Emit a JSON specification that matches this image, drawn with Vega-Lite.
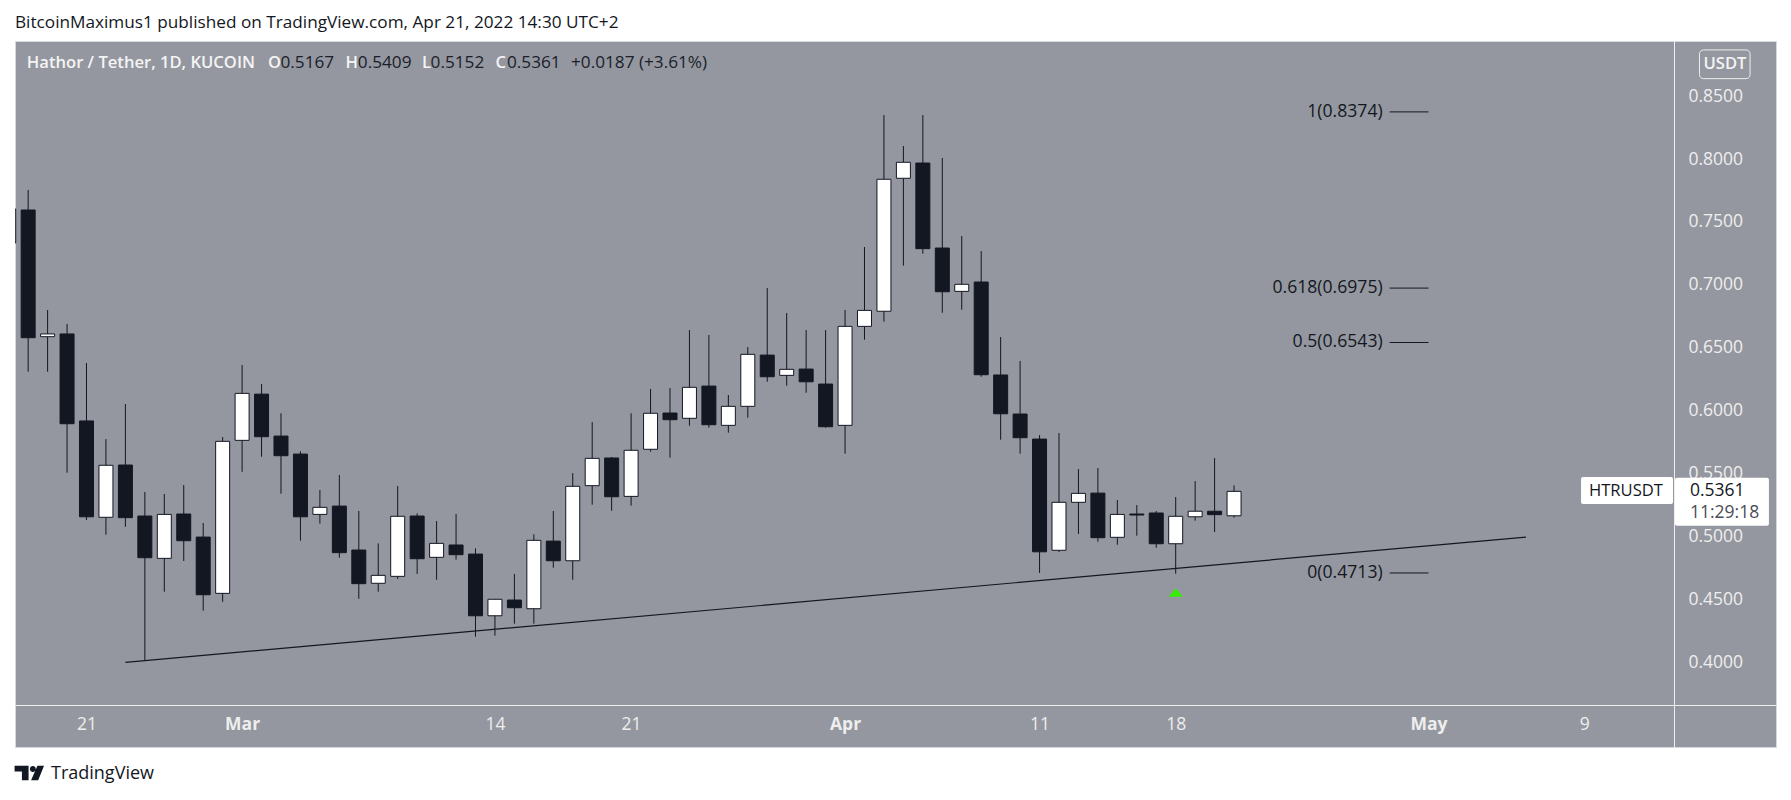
{
  "$schema": "https://vega.github.io/schema/vega-lite/v6.json",
  "title": {"text": "BitcoinMaximus1 published on TradingView.com, Apr 21, 2022 14:30 UTC+2", "anchor": "start", "frame": "group", "offset": 10, "font": "Open Sans", "fontSize": 17.2, "fontWeight": "normal", "color": "#131722"},
  "width": 1761,
  "height": 706,
  "autosize": "none",
  "padding": {"left": 15, "top": 41, "right": 15, "bottom": 53},
  "background": "#ffffff",
  "config": {
    "view": {"fill": "#94979f", "stroke": "#d8d8e2"},
    "text": {"font": "Open Sans"},
    "axis": {"labelFont": "Open Sans", "labelFontSize": 17.5, "labelColor": "#eeeeee", "domainColor": "#eeeeee", "domainWidth": 1, "ticks": false, "grid": false, "title": null, "labelOverlap": false, "labelBound": false, "labelFlush": false}
  },
  "datasets": {
    "candles": [
      {"date": "2022-02-17", "open": 0.7333, "high": 0.7603, "low": 0.7333, "close": 0.7603},
      {"date": "2022-02-18", "open": 0.7595, "high": 0.7754, "low": 0.6311, "close": 0.6581},
      {"date": "2022-02-19", "open": 0.6589, "high": 0.6801, "low": 0.6311, "close": 0.6611},
      {"date": "2022-02-20", "open": 0.6611, "high": 0.669, "low": 0.5509, "close": 0.5898},
      {"date": "2022-02-21", "open": 0.592, "high": 0.638, "low": 0.5133, "close": 0.5159},
      {"date": "2022-02-22", "open": 0.5155, "high": 0.5776, "low": 0.5017, "close": 0.5568},
      {"date": "2022-02-23", "open": 0.557, "high": 0.6054, "low": 0.508, "close": 0.5152},
      {"date": "2022-02-24", "open": 0.5165, "high": 0.5356, "low": 0.4021, "close": 0.4834},
      {"date": "2022-02-25", "open": 0.4829, "high": 0.534, "low": 0.4564, "close": 0.5178},
      {"date": "2022-02-26", "open": 0.5181, "high": 0.5411, "low": 0.4808, "close": 0.4969},
      {"date": "2022-02-27", "open": 0.4998, "high": 0.511, "low": 0.4413, "close": 0.454},
      {"date": "2022-02-28", "open": 0.4551, "high": 0.5792, "low": 0.4484, "close": 0.5758},
      {"date": "2022-03-01", "open": 0.5766, "high": 0.6364, "low": 0.5516, "close": 0.6139},
      {"date": "2022-03-02", "open": 0.6133, "high": 0.6213, "low": 0.5636, "close": 0.5795},
      {"date": "2022-03-03", "open": 0.58, "high": 0.5981, "low": 0.5342, "close": 0.5644},
      {"date": "2022-03-04", "open": 0.5657, "high": 0.5679, "low": 0.4969, "close": 0.5159},
      {"date": "2022-03-05", "open": 0.5178, "high": 0.5372, "low": 0.5104, "close": 0.5234},
      {"date": "2022-03-06", "open": 0.5244, "high": 0.5491, "low": 0.4834, "close": 0.4874},
      {"date": "2022-03-07", "open": 0.4895, "high": 0.5205, "low": 0.4508, "close": 0.4628},
      {"date": "2022-03-08", "open": 0.4631, "high": 0.4948, "low": 0.4564, "close": 0.4694},
      {"date": "2022-03-09", "open": 0.4686, "high": 0.5403, "low": 0.4665, "close": 0.5163},
      {"date": "2022-03-10", "open": 0.5165, "high": 0.5186, "low": 0.4705, "close": 0.4826},
      {"date": "2022-03-11", "open": 0.4837, "high": 0.5125, "low": 0.4659, "close": 0.4948},
      {"date": "2022-03-12", "open": 0.4935, "high": 0.5181, "low": 0.4818, "close": 0.4858},
      {"date": "2022-03-13", "open": 0.4863, "high": 0.4908, "low": 0.4207, "close": 0.4373},
      {"date": "2022-03-14", "open": 0.4373, "high": 0.4504, "low": 0.4215, "close": 0.4504},
      {"date": "2022-03-15", "open": 0.4498, "high": 0.4705, "low": 0.431, "close": 0.4437},
      {"date": "2022-03-16", "open": 0.4429, "high": 0.502, "low": 0.431, "close": 0.4972},
      {"date": "2022-03-17", "open": 0.4966, "high": 0.5205, "low": 0.4755, "close": 0.481},
      {"date": "2022-03-18", "open": 0.481, "high": 0.5506, "low": 0.4659, "close": 0.5401},
      {"date": "2022-03-19", "open": 0.5406, "high": 0.5911, "low": 0.5255, "close": 0.5623},
      {"date": "2022-03-20", "open": 0.5626, "high": 0.5634, "low": 0.5207, "close": 0.5318},
      {"date": "2022-03-21", "open": 0.5321, "high": 0.5981, "low": 0.5247, "close": 0.5687},
      {"date": "2022-03-22", "open": 0.5695, "high": 0.6174, "low": 0.5676, "close": 0.5981},
      {"date": "2022-03-23", "open": 0.5983, "high": 0.6181, "low": 0.5628, "close": 0.593},
      {"date": "2022-03-24", "open": 0.5941, "high": 0.6642, "low": 0.5882, "close": 0.6187},
      {"date": "2022-03-25", "open": 0.6197, "high": 0.6602, "low": 0.5866, "close": 0.589},
      {"date": "2022-03-26", "open": 0.5885, "high": 0.6126, "low": 0.5827, "close": 0.6036},
      {"date": "2022-03-27", "open": 0.6036, "high": 0.6507, "low": 0.5946, "close": 0.6449},
      {"date": "2022-03-28", "open": 0.6443, "high": 0.6975, "low": 0.6231, "close": 0.6271},
      {"date": "2022-03-29", "open": 0.6282, "high": 0.6777, "low": 0.62, "close": 0.633},
      {"date": "2022-03-30", "open": 0.6332, "high": 0.6642, "low": 0.6144, "close": 0.6231},
      {"date": "2022-03-31", "open": 0.6213, "high": 0.6642, "low": 0.5866, "close": 0.5874},
      {"date": "2022-04-01", "open": 0.5885, "high": 0.6801, "low": 0.566, "close": 0.6671},
      {"date": "2022-04-02", "open": 0.6671, "high": 0.7301, "low": 0.6565, "close": 0.6798},
      {"date": "2022-04-03", "open": 0.6791, "high": 0.8349, "low": 0.6708, "close": 0.7839},
      {"date": "2022-04-04", "open": 0.7847, "high": 0.8103, "low": 0.7153, "close": 0.7974},
      {"date": "2022-04-05", "open": 0.7968, "high": 0.8349, "low": 0.7248, "close": 0.7288},
      {"date": "2022-04-06", "open": 0.7293, "high": 0.8008, "low": 0.6779, "close": 0.6946},
      {"date": "2022-04-07", "open": 0.6949, "high": 0.7389, "low": 0.6803, "close": 0.7005},
      {"date": "2022-04-08", "open": 0.7023, "high": 0.7269, "low": 0.6271, "close": 0.6287},
      {"date": "2022-04-09", "open": 0.6285, "high": 0.6586, "low": 0.5771, "close": 0.5977},
      {"date": "2022-04-10", "open": 0.5975, "high": 0.6396, "low": 0.566, "close": 0.5787},
      {"date": "2022-04-11", "open": 0.5776, "high": 0.5808, "low": 0.4713, "close": 0.4881},
      {"date": "2022-04-12", "open": 0.4893, "high": 0.5824, "low": 0.4879, "close": 0.5274},
      {"date": "2022-04-13", "open": 0.5274, "high": 0.5538, "low": 0.5022, "close": 0.5345},
      {"date": "2022-04-14", "open": 0.5347, "high": 0.5546, "low": 0.4961, "close": 0.4993},
      {"date": "2022-04-15", "open": 0.4996, "high": 0.5292, "low": 0.4937, "close": 0.5178},
      {"date": "2022-04-16", "open": 0.5181, "high": 0.5252, "low": 0.5009, "close": 0.5173},
      {"date": "2022-04-17", "open": 0.5189, "high": 0.5205, "low": 0.4913, "close": 0.4945},
      {"date": "2022-04-18", "open": 0.4945, "high": 0.5316, "low": 0.4707, "close": 0.5163},
      {"date": "2022-04-19", "open": 0.5159, "high": 0.5443, "low": 0.5128, "close": 0.5203},
      {"date": "2022-04-20", "open": 0.5203, "high": 0.5626, "low": 0.5038, "close": 0.5176},
      {"date": "2022-04-21", "open": 0.5167, "high": 0.5409, "low": 0.5152, "close": 0.5361}
    ],
    "fib": [
      {"label": "1(0.8374)", "level": 0.8374, "start": "2022-04-29", "end": "2022-05-01"},
      {"label": "0.618(0.6975)", "level": 0.6975, "start": "2022-04-29", "end": "2022-05-01"},
      {"label": "0.5(0.6543)", "level": 0.6543, "start": "2022-04-29", "end": "2022-05-01"},
      {"label": "0(0.4713)", "level": 0.4713, "start": "2022-04-29", "end": "2022-05-01"}
    ],
    "legendKeys": [
      {"label": "Hathor / Tether, 1D, KUCOIN", "date": "2022-02-17T22:20:00Z", "price": 0.876},
      {"label": "O", "date": "2022-03-02T07:58:00Z", "price": 0.876},
      {"label": "H", "date": "2022-03-06T07:41:00Z", "price": 0.876},
      {"label": "L", "date": "2022-03-10T06:00:00Z", "price": 0.876},
      {"label": "C", "date": "2022-03-14T00:43:00Z", "price": 0.876}
    ],
    "legendValues": [
      {"label": "0.5167", "date": "2022-03-02T23:23:00Z", "price": 0.876},
      {"label": "0.5409", "date": "2022-03-06T22:48:00Z", "price": 0.876},
      {"label": "0.5152", "date": "2022-03-10T16:34:00Z", "price": 0.876},
      {"label": "0.5361", "date": "2022-03-14T14:53:00Z", "price": 0.876},
      {"label": "+0.0187 (+3.61%)", "date": "2022-03-17T21:50:00Z", "price": 0.876}
    ],
    "badges": [
      {"start": "2022-05-08T20:10:00Z", "end": "2022-05-13T13:40:00Z", "top": 0.5475, "bottom": 0.526},
      {"start": "2022-05-13T16:05:00Z", "end": "2022-05-18T12:00:00Z", "top": 0.5469, "bottom": 0.5088}
    ]
  },
  "layer": [
    {
      "data": {"name": "candles"},
      "mark": {"type": "rule", "color": "#131722", "strokeWidth": 1, "clip": true},
      "encoding": {
        "x": {
          "field": "date",
          "type": "temporal",
          "scale": {"type": "utc", "domain": ["2022-02-17T07:46:30Z", "2022-05-18T20:44:00Z"], "padding": 0},
          "axis": {
            "orient": "bottom",
            "offset": -42,
            "labelPadding": 19,
            "labelBaseline": "middle",
            "labelAlign": "center",
            "values": ["2022-02-21", "2022-03-01", "2022-03-14", "2022-03-21", "2022-04-01", "2022-04-11", "2022-04-18", "2022-05-01", "2022-05-09"],
            "labelExpr": "utcdate(datum.value) == 1 ? utcFormat(datum.value, '%b') : utcFormat(datum.value, '%-d')",
            "labelFontWeight": {"condition": {"test": "utcdate(datum.value) == 1", "value": "bold"}, "value": "normal"}
          }
        },
        "y": {
          "field": "low",
          "type": "quantitative",
          "scale": {"domain": [0.3331, 0.8937], "nice": false, "zero": false},
          "axis": {
            "orient": "right",
            "offset": -102,
            "labelPadding": 14,
            "values": [0.4, 0.45, 0.5, 0.55, 0.6, 0.65, 0.7, 0.75, 0.8, 0.85],
            "format": ".4f"
          }
        },
        "y2": {"field": "high"}
      }
    },
    {
      "data": {"name": "candles"},
      "mark": {"type": "bar", "size": 14, "stroke": "#131722", "strokeWidth": 1, "clip": true},
      "encoding": {
        "x": {"field": "date", "type": "temporal", "scale": {"padding": 0}},
        "y": {"field": "open", "type": "quantitative"},
        "y2": {"field": "close"},
        "color": {"condition": {"test": "datum.close > datum.open", "value": "#ffffff"}, "value": "#131722"}
      }
    },
    {
      "data": {"values": [{"date": "2022-02-23", "price": 0.4003}, {"date": "2022-05-06", "price": 0.4998}]},
      "mark": {"type": "line", "color": "#131722", "strokeWidth": 1.2},
      "encoding": {
        "x": {"field": "date", "type": "temporal"},
        "y": {"field": "price", "type": "quantitative"}
      }
    },
    {
      "data": {"name": "fib"},
      "mark": {"type": "rule", "color": "#131722", "strokeWidth": 1},
      "encoding": {
        "x": {"field": "start", "type": "temporal"},
        "x2": {"field": "end"},
        "y": {"field": "level", "type": "quantitative"}
      }
    },
    {
      "data": {"name": "fib"},
      "mark": {"type": "text", "align": "right", "baseline": "middle", "dx": -7, "fontSize": 17.6, "color": "#131722"},
      "encoding": {
        "x": {"field": "start", "type": "temporal"},
        "y": {"field": "level", "type": "quantitative"},
        "text": {"field": "label"}
      }
    },
    {
      "data": {"values": [{"date": "2022-04-18", "price": 0.4558}]},
      "mark": {"type": "point", "shape": "M0,-0.6L1,0.6L-1,0.6Z", "size": 196, "filled": true, "color": "#33f000", "opacity": 1},
      "encoding": {
        "x": {"field": "date", "type": "temporal"},
        "y": {"field": "price", "type": "quantitative"}
      }
    },
    {
      "data": {"name": "legendKeys"},
      "mark": {"type": "text", "align": "left", "baseline": "middle", "fontSize": 16.6, "fontWeight": 600, "color": "#f4f4f4"},
      "encoding": {
        "x": {"field": "date", "type": "temporal"},
        "y": {"field": "price", "type": "quantitative"},
        "text": {"field": "label"}
      }
    },
    {
      "data": {"name": "legendValues"},
      "mark": {"type": "text", "align": "left", "baseline": "middle", "fontSize": 17.2, "color": "#1a1e2b"},
      "encoding": {
        "x": {"field": "date", "type": "temporal"},
        "y": {"field": "price", "type": "quantitative"},
        "text": {"field": "label"}
      }
    },
    {
      "data": {"values": [{"start": "2022-05-14T22:19:00Z", "end": "2022-05-17T12:43:00Z", "top": 0.8866, "bottom": 0.8638}]},
      "mark": {"type": "rect", "fill": "transparent", "stroke": "#eeeeee", "strokeWidth": 1, "cornerRadius": 4},
      "encoding": {
        "x": {"field": "start", "type": "temporal"},
        "x2": {"field": "end"},
        "y": {"field": "top", "type": "quantitative"},
        "y2": {"field": "bottom"}
      }
    },
    {
      "data": {"values": [{"label": "USDT", "date": "2022-05-16T05:46:00Z", "price": 0.8754}]},
      "mark": {"type": "text", "align": "center", "baseline": "middle", "fontSize": 16.6, "fontWeight": 600, "color": "#f4f4f4"},
      "encoding": {
        "x": {"field": "date", "type": "temporal"},
        "y": {"field": "price", "type": "quantitative"},
        "text": {"field": "label"}
      }
    },
    {
      "data": {"name": "badges"},
      "mark": {"type": "rect", "fill": "#ffffff", "cornerRadius": 2},
      "encoding": {
        "x": {"field": "start", "type": "temporal"},
        "x2": {"field": "end"},
        "y": {"field": "top", "type": "quantitative"},
        "y2": {"field": "bottom"}
      }
    },
    {
      "data": {"values": [{"label": "HTRUSDT", "date": "2022-05-11T03:36:00Z", "price": 0.5366}]},
      "mark": {"type": "text", "align": "center", "baseline": "middle", "fontSize": 16.6, "color": "#131722"},
      "encoding": {
        "x": {"field": "date", "type": "temporal"},
        "y": {"field": "price", "type": "quantitative"},
        "text": {"field": "label"}
      }
    },
    {
      "data": {"values": [{"label": "0.5361", "date": "2022-05-14T10:34:00Z", "price": 0.5366}]},
      "mark": {"type": "text", "align": "left", "baseline": "middle", "fontSize": 17.5, "color": "#131722"},
      "encoding": {
        "x": {"field": "date", "type": "temporal"},
        "y": {"field": "price", "type": "quantitative"},
        "text": {"field": "label"}
      }
    },
    {
      "data": {"values": [{"label": "11:29:18", "date": "2022-05-14T10:34:00Z", "price": 0.5191}]},
      "mark": {"type": "text", "align": "left", "baseline": "middle", "fontSize": 17.5, "color": "#4a4d57"},
      "encoding": {
        "x": {"field": "date", "type": "temporal"},
        "y": {"field": "price", "type": "quantitative"},
        "text": {"field": "label"}
      }
    },
    {
      "data": {"values": [{"date": "2022-02-18T01:26:00Z", "price": 0.3124}]},
      "mark": {"type": "point", "shape": "M-1,-0.49L-0.05,-0.49L-0.05,0.49L-0.5,0.49L-0.5,-0.1L-1,-0.1ZM0.04,-0.28A0.2,0.2 0 1 1 0.44,-0.28A0.2,0.2 0 1 1 0.04,-0.28ZM0.55,-0.49L1,-0.49L0.6,0.49L0.12,0.49Z", "size": 870, "filled": true, "color": "#131722", "opacity": 1},
      "encoding": {
        "x": {"field": "date", "type": "temporal"},
        "y": {"field": "price", "type": "quantitative"}
      }
    },
    {
      "data": {"values": [{"label": "TradingView", "date": "2022-02-19T04:12:00Z", "price": 0.3116}]},
      "mark": {"type": "text", "align": "left", "baseline": "middle", "fontSize": 18, "color": "#131722"},
      "encoding": {
        "x": {"field": "date", "type": "temporal"},
        "y": {"field": "price", "type": "quantitative"},
        "text": {"field": "label"}
      }
    }
  ]
}
